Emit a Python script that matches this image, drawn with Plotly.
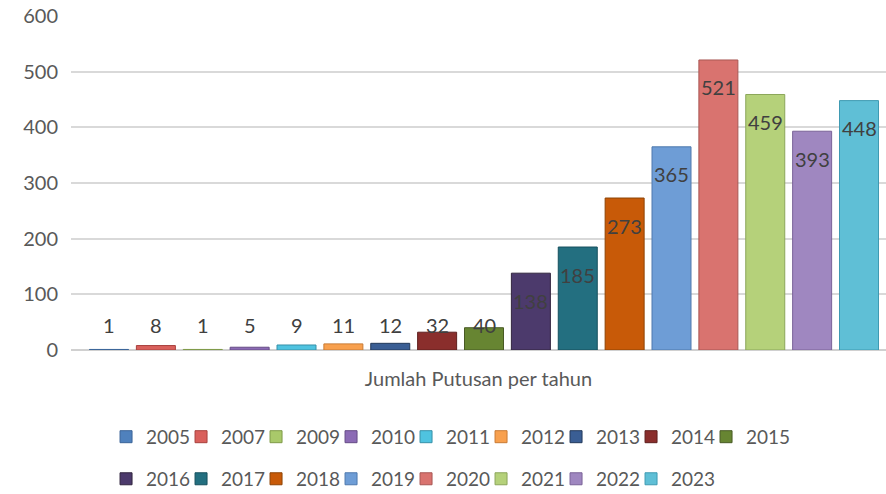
import plotly.graph_objects as go

# ---- data ----
years = ["2005", "2007", "2009", "2010", "2011", "2012", "2013", "2014", "2015",
         "2016", "2017", "2018", "2019", "2020", "2021", "2022", "2023"]
counts = [1, 8, 1, 5, 9, 11, 12, 32, 40, 138, 185, 273, 365, 521, 459, 393, 448]
x_title = "Jumlah Putusan per tahun"
y_ticks = [0, 100, 200, 300, 400, 500, 600]

# ---- styles ----
colors = ["#4F81BD", "#D9605C", "#A9C96A", "#8C6BB5", "#4FC3E0", "#F8A04E",
          "#3A5E94", "#8A2E2C", "#678532", "#4C3A6C", "#236F80", "#C85A08",
          "#6E9DD6", "#D9736F", "#B5D17A", "#9F87C0", "#5FBFD6"]
edges = ["#3A6498", "#A8403D", "#7F9A48", "#664C86", "#3790A8", "#C97A34",
         "#22395A", "#5E1F1D", "#485A24", "#32253F", "#16505D", "#8E4405",
         "#4E79AD", "#A85754", "#8BA65A", "#7A6398", "#3F9AB2"]
FONT = "Lato"
first_row = 9
row_ends = {first_row - 1, len(years) - 1}

fig = go.Figure()
for i, (yr, val) in enumerate(zip(years, counts)):
    fig.add_trace(go.Bar(
        x=[yr], y=[val], name=yr,
        marker=dict(color=colors[i], line=dict(color=edges[i], width=1)),
        legend="legend" if i < first_row else "legend2",
        legendwidth=50 if i in row_ends else None,
        hovertemplate="%{x}: %{y}<extra></extra>",
    ))

# data labels: inside-end for tall bars, clamped above the base for short bars
px_per_unit = (494 - 16 - 144) / (y_ticks[-1] - y_ticks[0])
annotations = []
for idx, val in enumerate(counts):
    tall = val * px_per_unit > 53
    annotations.append(dict(
        x=idx, y=val if tall else 0, xref="x", yref="y",
        text=str(val), showarrow=False,
        yshift=-27.5 if tall else 25.5, yanchor="middle",
        font=dict(family=FONT, size=20, color="#404040"),
    ))

legend_common = dict(
    orientation="h", xanchor="left", yanchor="middle",
    font=dict(family=FONT, size=19, color="#595959"),
    entrywidth=30, entrywidthmode="pixels", itemwidth=30,
    bgcolor="rgba(0,0,0,0)", traceorder="normal",
)

fig.update_layout(
    width=886, height=494,
    margin=dict(l=71, r=0, t=16, b=144, autoexpand=False),
    paper_bgcolor="white", plot_bgcolor="white",
    barmode="overlay", bargap=0.168,
    showlegend=True,
    legend=dict(x=0.043, y=-0.26, **legend_common),
    legend2=dict(x=0.043, y=-0.386, **legend_common),
    annotations=annotations,
    xaxis=dict(
        type="category", categoryorder="array", categoryarray=years,
        range=[-0.8107, len(years) - 1 + 0.576],
        showticklabels=False, showgrid=False, zeroline=False, showline=False,
        automargin=False,
        title=dict(text=x_title, standoff=21,
                   font=dict(family=FONT, size=20, color="#595959")),
    ),
    yaxis=dict(
        range=[y_ticks[0], y_ticks[-1]], tickvals=y_ticks,
        showgrid=True, gridcolor="#D9D9D9", gridwidth=1.5,
        zeroline=True, zerolinecolor="#D0D0D0", zerolinewidth=2,
        showline=False, ticks="", ticklabelstandoff=12, automargin=False,
        tickfont=dict(family=FONT, size=20, color="#595959"),
    ),
)

fig.write_html(
    "out.html",
    config={"displayModeBar": False},
    post_script="document.body.style.margin='0';document.body.style.overflow='hidden';",
)
